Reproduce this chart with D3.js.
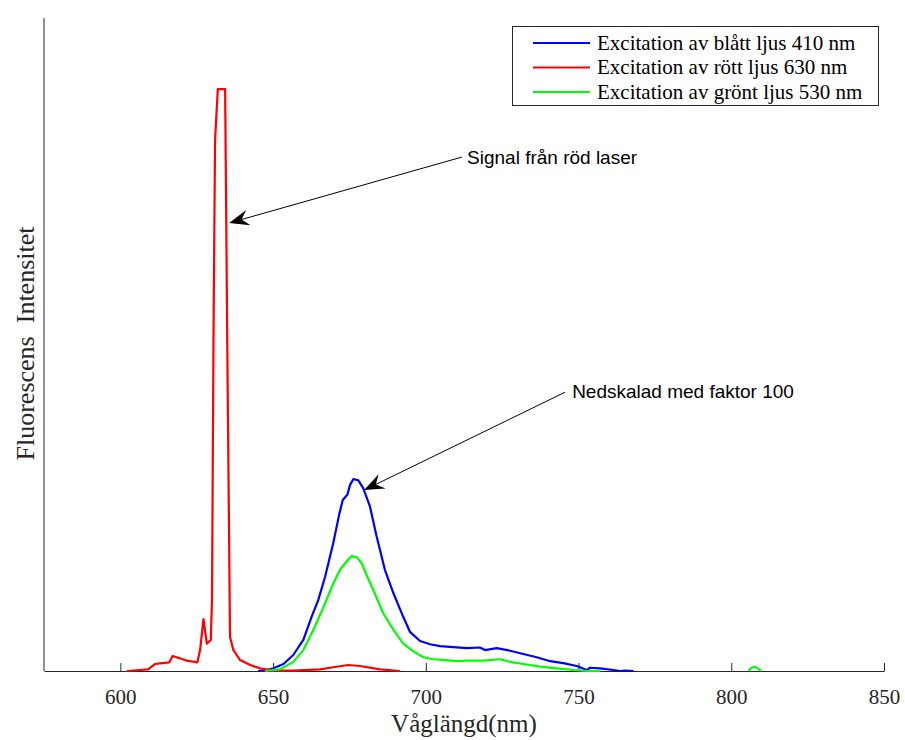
<!DOCTYPE html>
<html>
<head>
<meta charset="utf-8">
<script src="https://cdn.jsdelivr.net/npm/d3@7"></script>
<style>
  body { margin: 0; background: #fff; }
  svg { display: block; }
</style>
</head>
<body>
<div id="chart"></div>
<script>
// wavelength (nm) and intensity
var redNm = [602.1, 606.4, 609.1, 611.3, 613, 616, 617.1, 619.5, 621.7, 625.2, 626.1, 627.2, 628.3, 629.6,
  630.0, 630.5, 631.0, 631.9, 634.3, 635.0, 635.9, 637.0, 639.2, 642.5, 645.7, 650, 656.6, 665.4,
  669.7, 674.6, 678.4, 685, 691.5];
var redVal = [0, 0.15, 0.26, 1.07, 1.18, 1.33, 2.3, 1.94, 1.58, 1.33, 3.2, 7.96, 4.2, 4.75,
  11, 52, 81.3, 89.1, 89.1, 50, 5.2, 3.2, 1.68, 0.92, 0.41, 0.05, 0.05, 0.26,
  0.57, 0.92, 0.77, 0.26, 0];

var blueNm = [645.1, 647.5, 650.1, 653.4, 656.6, 659.9, 662.6, 664.8, 667, 669.7, 671.7, 672.8, 674.3,
  675.2, 676.3, 677.9, 679.5, 681.7, 683.9, 686.6, 689.4, 692.6, 694.8, 698.1, 701.4, 704.6, 707.9,
  713.4, 717.7, 719.4, 723.2, 727.6, 731.9, 736.3, 740.7, 745, 749.4, 752.7, 753.8, 757, 761.4,
  763.6, 765.2, 768];
var blueVal = [0, 0.1, 0.41, 1.07, 2.45, 4.75, 8.3, 10.9, 14.4, 19.6, 24.1, 26.2, 27,
  28.5, 29.4, 29.2, 28, 25.2, 20.6, 15.5, 11.9, 8.3, 6.0, 4.6, 4.1, 3.8, 3.7,
  3.5, 3.6, 3.2, 3.5, 3.1, 2.6, 2.1, 1.5, 1.2, 0.77, 0.15, 0.5, 0.41, 0.15,
  0, 0.05, 0];

var greenNm = [647.3, 652.3, 656.6, 659.9, 663.2, 666.5, 669.7, 671.9, 673.9, 675.7, 677.4, 679, 680.6,
  682.8, 686.1, 689.4, 692.6, 695.9, 699.2, 702.5, 705.7, 710.1, 713.4, 718.8, 724.3, 727.6, 731.9,
  737.4, 742.8, 748.3, 752.7, 757, 780, 805.6, 806.5, 807.6, 808.7, 809.7];
var greenVal = [0, 0.26, 1.4, 3.2, 6.3, 9.8, 13.4, 15.5, 16.7, 17.6, 17.4, 16.5, 14.7,
  12.4, 8.8, 6.3, 4.2, 3.0, 2.1, 1.8, 1.7, 1.5, 1.6, 1.6, 1.8, 1.4, 1.07,
  0.66, 0.41, 0.15, 0, 0, null, 0, 0.45, 0.66, 0.4, 0];

var xTicks = [600, 650, 700, 750, 800, 850];

var legendLabels = ["Excitation av blått ljus 410 nm", "Excitation av rött ljus 630 nm", "Excitation av grönt ljus 530 nm"];
var legendColors = ["#0000ff", "#ff0000", "#00ff00"];

// annotations: text position, arrow start, arrow tip (nm, value)
var notes = [
  { text: "Signal från röd laser", tx: 713.5, ty: 78.6, sx: 711.8, sy: 78.7, ex: 635.6, ey: 68.6 },
  { text: "Nedskalad med faktor 100", tx: 747.9, ty: 42.9, sx: 745.6, sy: 42.7, ex: 679.8, ey: 27.7 }
];

var width = 905;
var height = 740;
var serif = "'Liberation Serif', 'Times New Roman', serif";
var sans = "'Liberation Sans', Arial, sans-serif";
var axisColor = "#262626";

var x = d3.scaleLinear().domain([575, 850]).range([44, 884]);
var y = d3.scaleLinear().domain([0, 100]).range([671, 18]);

var svg = d3.select("#chart").append("svg")
  .attr("width", width)
  .attr("height", height);

// axes
svg.append("line")
  .attr("x1", x(575)).attr("x2", x(575))
  .attr("y1", y(100)).attr("y2", y(0))
  .attr("stroke", axisColor).attr("stroke-width", 1);

var xAxis = d3.axisBottom(x).tickValues(xTicks).tickSizeInner(-8).tickSizeOuter(0).tickPadding(18);
var gx = svg.append("g")
  .attr("transform", "translate(0," + y(0) + ")")
  .call(xAxis);
gx.select(".domain").attr("stroke", axisColor);
gx.selectAll(".tick line").attr("stroke", axisColor);
gx.selectAll(".tick text")
  .attr("fill", axisColor)
  .style("font-family", serif)
  .style("font-size", "21px");

svg.append("text")
  .attr("x", (x(575) + x(850)) / 2)
  .attr("y", 732)
  .attr("text-anchor", "middle")
  .attr("fill", axisColor)
  .style("font-family", serif)
  .style("font-size", "25px")
  .text("Våglängd(nm)");

svg.append("text")
  .attr("transform", "translate(34," + (y(50) - 1) + ") rotate(-90)")
  .attr("text-anchor", "middle")
  .attr("fill", axisColor)
  .attr("xml:space", "preserve")
  .style("white-space", "pre")
  .style("font-family", serif)
  .style("font-size", "26px")
  .text("Fluorescens  Intensitet");

// series
var line = d3.line()
  .defined(function (d) { return d.v != null; })
  .x(function (d) { return x(d.nm); })
  .y(function (d) { return y(d.v); });

function zip(nm, val) {
  return nm.map(function (n, i) { return { nm: n, v: val[i] }; });
}

var series = [
  { data: zip(blueNm, blueVal), color: legendColors[0] },
  { data: zip(redNm, redVal), color: legendColors[1] },
  { data: zip(greenNm, greenVal), color: legendColors[2] }
];

svg.selectAll(".series")
  .data(series)
  .enter()
  .append("path")
  .attr("class", "series")
  .attr("d", function (d) { return line(d.data); })
  .attr("fill", "none")
  .attr("stroke", function (d) { return d.color; })
  .attr("stroke-width", 2.2)
  .attr("stroke-linejoin", "round");

// annotations
notes.forEach(function (n) {
  var x0 = x(n.sx), y0 = y(n.sy), x1 = x(n.ex), y1 = y(n.ey);
  var ang = Math.atan2(y1 - y0, x1 - x0);
  var len = 20, hw = 8, notch = 13;
  var ux = Math.cos(ang), uy = Math.sin(ang);
  var px = -uy, py = ux;
  var bx = x1 - ux * len, by = y1 - uy * len;
  var nx = x1 - ux * notch, ny = y1 - uy * notch;

  svg.append("line")
    .attr("x1", x0).attr("y1", y0)
    .attr("x2", nx).attr("y2", ny)
    .attr("stroke", "#000").attr("stroke-width", 1);

  svg.append("path")
    .attr("d", "M" + x1 + "," + y1 +
      "L" + (bx + px * hw) + "," + (by + py * hw) +
      "L" + nx + "," + ny +
      "L" + (bx - px * hw) + "," + (by - py * hw) + "Z")
    .attr("fill", "#000");

  svg.append("text")
    .attr("x", x(n.tx))
    .attr("y", y(n.ty))
    .attr("dy", "0.35em")
    .attr("fill", "#000")
    .style("font-family", sans)
    .style("font-size", "19px")
    .text(n.text);
});

// legend
var lg = svg.append("g");
lg.append("rect")
  .attr("x", 512.5).attr("y", 26.5)
  .attr("width", 366).attr("height", 79)
  .attr("fill", "#fff")
  .attr("stroke", axisColor)
  .attr("stroke-width", 1);

var rows = lg.selectAll(".row")
  .data(legendLabels)
  .enter()
  .append("g")
  .attr("transform", function (d, i) { return "translate(0," + (43 + i * 24.5) + ")"; });

rows.append("line")
  .attr("x1", 533).attr("x2", 590)
  .attr("y1", 0).attr("y2", 0)
  .attr("stroke", function (d, i) { return legendColors[i]; })
  .attr("stroke-width", 2.2);

rows.append("text")
  .attr("x", 597)
  .attr("y", 0)
  .attr("dy", "0.33em")
  .attr("fill", "#000")
  .style("font-family", serif)
  .style("font-size", "21px")
  .text(function (d) { return d; });
</script>
</body>
</html>
